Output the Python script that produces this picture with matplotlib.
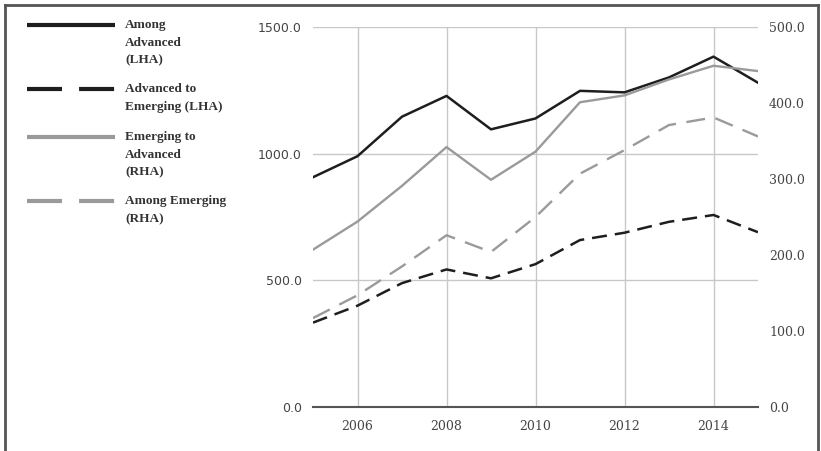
import numpy as np
import matplotlib
matplotlib.use("Agg")
import matplotlib.pyplot as plt
from matplotlib.lines import Line2D

years = [2005, 2006, 2007, 2008, 2009, 2010, 2011, 2012, 2013, 2014, 2015]

# left hand axis (LHA)
among_advanced = [907, 990, 1146, 1228, 1096, 1139, 1248, 1242, 1301, 1383, 1280]
adv_to_emerging = [333, 400, 489, 543, 508, 564, 659, 688, 731, 758, 690]

# right hand axis (RHA)
emerging_to_adv = [207, 244, 291, 342, 299, 336, 401, 410, 431, 449, 442]
among_emerging = [117, 147, 185, 226, 204, 250, 307, 338, 371, 381, 356]

legend_labels = ["Among\nAdvanced\n(LHA)", "Advanced to\nEmerging (LHA)",
                 "Emerging to\nAdvanced\n(RHA)", "Among Emerging\n(RHA)"]

dark = "#1e1e1e"
grey = "#9a9a9a"
grid_c = "#c8c8c8"
text_c = "#444444"

fig = plt.figure(figsize=(8.21, 4.51), dpi=100)
ax = fig.add_axes([313 / 821, 1 - 407 / 451, (758 - 313) / 821, 380 / 451])
ax2 = ax.twinx()

ax.plot(years, among_advanced, color=dark, lw=1.8)
ax.plot(years, adv_to_emerging, color=dark, lw=1.8, dashes=(6, 3.2))
ax2.plot(years, emerging_to_adv, color=grey, lw=1.7)
ax2.plot(years, among_emerging, color=grey, lw=1.7, dashes=(8, 4.5))

ax.set_xlim(2005, 2015)
ax.set_ylim(0, 1500)
ax2.set_ylim(0, 500)
ax.set_xticks([2006, 2008, 2010, 2012, 2014])
ax.set_yticks([0, 500, 1000, 1500])
ax2.set_yticks([0, 100, 200, 300, 400, 500])
ax.yaxis.set_major_formatter(matplotlib.ticker.FormatStrFormatter("%.1f"))
ax2.yaxis.set_major_formatter(matplotlib.ticker.FormatStrFormatter("%.1f"))

ax.grid(True, color=grid_c, lw=1.0)
ax.set_axisbelow(True)
for a in (ax, ax2):
    for s in ("top", "left", "right", "bottom"):
        a.spines[s].set_visible(False)
ax.axhline(0, color="#555555", lw=1.5, zorder=3, clip_on=False)

ax.tick_params(axis="y", length=0, pad=8, labelsize=9, labelcolor=text_c)
ax2.tick_params(axis="y", length=0, pad=8, labelsize=9, labelcolor=text_c)
ax.tick_params(axis="x", length=0, pad=9, labelsize=9, labelcolor=text_c)
for lab in ax.get_yticklabels():
    lab.set_family("DejaVu Sans")
for lab in ax2.get_yticklabels() + ax.get_xticklabels():
    lab.set_family("DejaVu Serif")

# legend drawn by hand, line key next to the first text line
legend_y = [25, 89, 137, 201]
styles = [(dark, False), (dark, True), (grey, False), (grey, True)]
for lab, yy, (c, dashed) in zip(legend_labels, legend_y, styles):
    y = 1 - yy / 451
    ls = (0, (8.4, 4.1)) if dashed else "-"
    fig.add_artist(Line2D([27 / 821, 115 / 821], [y, y], color=c, lw=3,
                          linestyle=ls, solid_capstyle="butt",
                          dash_capstyle="butt"))
    fig.text(125 / 821, y + 6 / 451, lab, ha="left", va="top", fontsize=9.5,
             family="Liberation Serif", fontweight="bold", color="#333333",
             linespacing=1.65)

# frame around image (top, left, right)
for xs, ys in [([5 / 821, 818 / 821], [1 - 5 / 451, 1 - 5 / 451]),
               ([5 / 821, 5 / 821], [0, 1 - 5 / 451]),
               ([818 / 821, 818 / 821], [0, 1 - 5 / 451])]:
    fig.add_artist(Line2D(xs, ys, color="#555555", lw=2))

fig.savefig("out.png", dpi=100)
